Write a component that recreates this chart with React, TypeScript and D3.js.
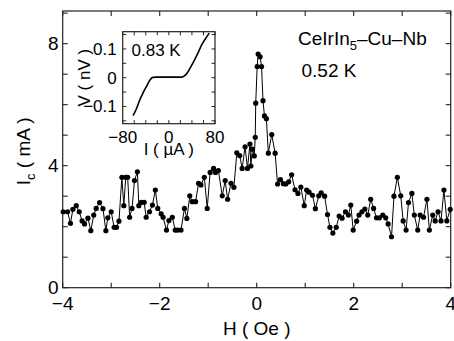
import * as d3 from "d3";

// ── Data ───────────────────────────────────────────────────
const H_VALUES = [
  -3.99, -3.9, -3.84, -3.79, -3.72, -3.66, -3.6, -3.55, -3.48, -3.42,
  -3.36, -3.31, -3.24, -3.17, -3.11, -3.07, -3.0, -2.94, -2.89, -2.84,
  -2.78, -2.74, -2.7, -2.66, -2.62, -2.57, -2.52, -2.46, -2.43, -2.38,
  -2.32, -2.28, -2.21, -2.15, -2.09, -2.04, -1.97, -1.93, -1.86, -1.81,
  -1.74, -1.68, -1.63, -1.56, -1.49, -1.44, -1.38, -1.33, -1.26, -1.2,
  -1.15, -1.08, -1.02, -0.96, -0.89, -0.85, -0.79, -0.71, -0.65, -0.6,
  -0.53, -0.47, -0.41, -0.35, -0.3, -0.24, -0.19, -0.14, -0.12, -0.09,
  -0.05, -0.03, -0.02, 0.01, 0.03, 0.07, 0.1, 0.13, 0.16, 0.2,
  0.24, 0.31, 0.38, 0.43, 0.49, 0.55, 0.6, 0.66, 0.72, 0.79,
  0.85, 0.91, 0.98, 1.03, 1.08, 1.15, 1.21, 1.28, 1.33, 1.4,
  1.46, 1.51, 1.57, 1.64, 1.7, 1.76, 1.83, 1.89, 1.94, 1.99,
  2.06, 2.11, 2.17, 2.23, 2.29, 2.35, 2.41, 2.47, 2.53, 2.6,
  2.66, 2.71, 2.78, 2.83, 2.9, 2.97, 3.02, 3.08, 3.13, 3.2,
  3.25, 3.32, 3.37, 3.44, 3.51, 3.56, 3.63, 3.68, 3.74, 3.8,
  3.86, 3.92, 3.99,
];
const IC_VALUES = [
  2.49, 2.49, 2.11, 2.57, 2.69, 2.49, 2.19, 2.09, 2.28, 1.87,
  2.38, 2.6, 2.79, 2.59, 1.87, 2.29, 2.49, 1.98, 1.98, 2.18,
  3.62, 2.69, 3.62, 3.62, 2.31, 2.6, 3.51, 3.8, 2.69, 2.8,
  2.8, 2.31, 2.49, 2.71, 3.2, 2.6, 2.42, 2.31, 1.89, 2.2,
  2.31, 1.89, 1.89, 1.89, 2.6, 2.27, 3.01, 2.82, 2.82, 3.42,
  3.37, 3.62, 2.6, 3.78, 3.91, 3.78, 3.84, 3.01, 3.51, 2.9,
  3.42, 3.29, 4.42, 4.33, 3.91, 4.62, 3.91, 4.71, 3.99, 4.54,
  4.32, 4.93, 6.05, 7.25, 7.66, 7.57, 7.25, 6.13, 5.63, 5.54,
  4.41, 5.02, 4.41, 3.4, 3.54, 3.41, 3.4, 3.47, 3.7, 3.21,
  3.09, 3.3, 2.69, 3.2, 3.13, 3.03, 2.59, 3.01, 3.11, 3.0,
  2.4, 1.98, 1.79, 1.98, 2.35, 2.28, 2.49, 2.38, 2.71, 1.89,
  2.18, 2.38, 2.49, 2.58, 2.38, 2.9, 2.6, 2.29, 2.29, 2.38,
  2.29, 2.09, 1.67, 3.0, 3.62, 3.01, 2.19, 1.89, 2.79, 3.09,
  2.38, 1.89, 2.38, 2.31, 2.9, 1.89, 2.38, 2.19, 2.49, 2.19,
  3.2, 2.19, 2.57,
];

// inset I–V curve
const INSET_I = [-62, -56, -51, -45, -39, -33, -28, -22, -10, 0, 10, 22, 27, 33, 39, 45, 51, 56, 62, 70];
const INSET_V = [-0.132, -0.107, -0.08, -0.054, -0.031, -0.009, 0.001, 0.002, 0.002, 0.002, 0.002, 0.002, 0.006, 0.02, 0.041, 0.064, 0.088, 0.111, 0.131, 0.155];

const X_LABELS = [-4, -2, 0, 2, 4];
const Y_LABELS = [0, 4, 8];
const INSET_X_LABELS = [-80, 0, 80];
const INSET_Y_LABELS = [-0.1, 0, 0.1];

// ── Layout ─────────────────────────────────────────────────
const W = 454;
const H = 341;
const plot = { left: 62.7, right: 450.7, top: 11, bottom: 287.7 };
const inset = { left: 122.7, right: 215, top: 31.7, bottom: 123.7 };
const FONT = "'Liberation Sans', Arial, Helvetica, sans-serif";
const AXIS = "#222";

const x = d3.scaleLinear().domain([-4, 4]).range([plot.left, plot.right]);
const y = d3.scaleLinear().domain([0, 9.07]).range([plot.bottom, plot.top]);
const ix = d3.scaleLinear().domain([-80, 80]).range([inset.left, inset.right]);
const iy = d3.scaleLinear().domain([-0.16, 0.16]).range([inset.bottom, inset.top]);

const fmt = (v: number) => (v < 0 ? `\u2212${Math.abs(v)}` : `${v}`);

export default function App() {
  const pts = H_VALUES.map((h, i) => [h, IC_VALUES[i]] as [number, number]);
  const mainLine = d3.line<[number, number]>().x((d) => x(d[0])).y((d) => y(d[1]))(pts) ?? "";
  const insetPts = INSET_I.map((v, i) => [v, INSET_V[i]] as [number, number]);
  const insetLine = d3
    .line<[number, number]>()
    .x((d) => ix(d[0]))
    .y((d) => iy(d[1]))
    .curve(d3.curveMonotoneX)(insetPts) ?? "";

  const xMinor = d3.range(-4, 4.01, 1);
  const yMinor = d3.range(0, 9.01, 1);
  const ixMinor = d3.range(-80, 80.1, 20);
  const iyMinor = [-0.15, -0.1, -0.05, 0, 0.05, 0.1, 0.15];
  const T = 5;
  const t = 3.5;

  return (
    <svg width={W} height={H} style={{ position: "absolute", left: 0, top: 0, background: "#fff" }} fontFamily={FONT}>
      {/* main frame + ticks */}
      <rect x={plot.left} y={plot.top} width={plot.right - plot.left} height={plot.bottom - plot.top}
        fill="none" stroke={AXIS} strokeWidth={1.2} />
      {xMinor.map((v) => (
        <g key={`xt${v}`} stroke={AXIS} strokeWidth={1.1}>
          <line x1={x(v)} x2={x(v)} y1={plot.bottom} y2={plot.bottom - T} />
          <line x1={x(v)} x2={x(v)} y1={plot.top} y2={plot.top + T} />
        </g>
      ))}
      {yMinor.map((v) => (
        <g key={`yt${v}`} stroke={AXIS} strokeWidth={1.1}>
          <line x1={plot.left} x2={plot.left + T} y1={y(v)} y2={y(v)} />
          <line x1={plot.right} x2={plot.right - T} y1={y(v)} y2={y(v)} />
        </g>
      ))}
      {X_LABELS.map((v) => (
        <text key={`xl${v}`} x={x(v)} y={310} fontSize={19} textAnchor="middle">{fmt(v)}</text>
      ))}
      {Y_LABELS.map((v) => (
        <text key={`yl${v}`} x={plot.left - 4} y={y(v) + 6.5} fontSize={19} textAnchor="end">{v}</text>
      ))}
      <text x={(plot.left + plot.right) / 2} y={335} fontSize={19} textAnchor="middle">H ( Oe )</text>
      <text transform={`translate(30, ${(plot.top + plot.bottom) / 2 + 2}) rotate(-90)`} fontSize={19} textAnchor="middle">
        I<tspan fontSize={13} dy={5}>c</tspan><tspan dy={-5}> ( mA )</tspan>
      </text>

      {/* data */}
      <path d={mainLine} fill="none" stroke="#000" strokeWidth={1} />
      {pts.map((d, i) => (
        <circle key={i} cx={x(d[0])} cy={y(d[1])} r={2.6} fill="#000" />
      ))}

      {/* labels */}
      <text x={298} y={45} fontSize={19}>
        CeIrIn<tspan fontSize={13} dy={5}>5</tspan><tspan dy={-5}>{"\u2013Cu\u2013Nb"}</tspan>
      </text>
      <text x={301.5} y={77} fontSize={19}>0.52 K</text>

      {/* inset */}
      <rect x={inset.left} y={inset.top} width={inset.right - inset.left} height={inset.bottom - inset.top}
        fill="#fff" stroke={AXIS} strokeWidth={1.2} />
      {ixMinor.map((v) => (
        <g key={`ixt${v}`} stroke={AXIS} strokeWidth={1}>
          <line x1={ix(v)} x2={ix(v)} y1={inset.bottom} y2={inset.bottom - t} />
          <line x1={ix(v)} x2={ix(v)} y1={inset.top} y2={inset.top + t} />
        </g>
      ))}
      {iyMinor.map((v) => (
        <g key={`iyt${v}`} stroke={AXIS} strokeWidth={1}>
          <line x1={inset.left} x2={inset.left + t} y1={iy(v)} y2={iy(v)} />
          <line x1={inset.right} x2={inset.right - t} y1={iy(v)} y2={iy(v)} />
        </g>
      ))}
      {INSET_X_LABELS.map((v) => (
        <text key={`ixl${v}`} x={ix(v)} y={143} fontSize={17} textAnchor="middle">{fmt(v)}</text>
      ))}
      {INSET_Y_LABELS.map((v) => (
        <text key={`iyl${v}`} x={inset.left - 6} y={iy(v) + 6} fontSize={17} textAnchor="end">{fmt(v)}</text>
      ))}
      <text x={(inset.left + inset.right) / 2} y={155} fontSize={17} textAnchor="middle">I ( µA )</text>
      <text transform={`translate(90, ${(inset.top + inset.bottom) / 2}) rotate(-90)`} fontSize={17} textAnchor="middle">V ( nV )</text>
      <text x={131.5} y={56} fontSize={17}>0.83 K</text>
      <path d={insetLine} fill="none" stroke="#000" strokeWidth={1.6} />
    </svg>
  );
}
